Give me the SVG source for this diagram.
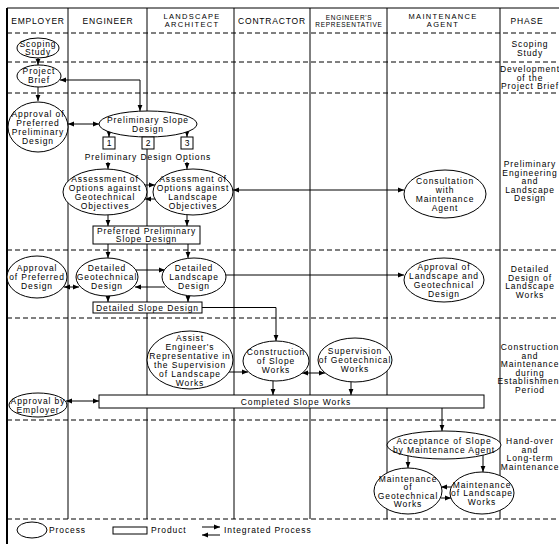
<svg xmlns="http://www.w3.org/2000/svg" width="559" height="544" viewBox="0 0 559 544">
<style>
.g{stroke:#000;stroke-width:1;fill:none}
.d{stroke:#000;stroke-width:1;fill:none;stroke-dasharray:5 3}
.n{stroke:#000;stroke-width:1;fill:#fff}
.c{stroke:#000;stroke-width:1;fill:none;marker-end:url(#ah)}
.b{stroke:#000;stroke-width:1;fill:none;marker-end:url(#ah);marker-start:url(#ah)}
text{font-family:"Liberation Sans",Arial,sans-serif;font-size:8.5px;letter-spacing:0.9px;fill:#000}
.t{text-anchor:middle}
.h{text-anchor:middle;font-size:8.5px;letter-spacing:0.8px}
.h2{text-anchor:middle;font-size:7.5px;letter-spacing:1.3px}
.hs{text-anchor:middle;font-size:6.5px;letter-spacing:0.7px}
</style>
<defs>
<marker id="ah" viewBox="0 0 6 6" refX="6" refY="3" markerWidth="6" markerHeight="6" markerUnits="userSpaceOnUse" orient="auto-start-reverse"><path d="M0,0.6 L6,3 L0,5.4z" fill="#000"/></marker>
</defs>
<rect x="0" y="0" width="559" height="544" fill="#fff"/>
<g id="grid">
<line class="g" x1="7" y1="8" x2="559" y2="8"/>
<line class="g" x1="7" y1="8" x2="7" y2="544" style="stroke-width:2"/>
<line class="g" x1="68" y1="8" x2="68" y2="519"/>
<line class="g" x1="147" y1="8" x2="147" y2="519"/>
<line class="g" x1="234" y1="8" x2="234" y2="519"/>
<line class="g" x1="310" y1="8" x2="310" y2="519"/>
<line class="g" x1="387" y1="8" x2="387" y2="519"/>
<line class="g" x1="500" y1="8" x2="500" y2="519"/>
<line class="d" x1="7" y1="33" x2="559" y2="33"/>
<line class="d" x1="7" y1="62" x2="559" y2="62"/>
<line class="d" x1="7" y1="93" x2="559" y2="93"/>
<line class="d" x1="7" y1="250" x2="559" y2="250"/>
<line class="d" x1="7" y1="318" x2="559" y2="318"/>
<line class="d" x1="7" y1="420" x2="559" y2="420"/>
<line class="d" x1="7" y1="519" x2="559" y2="519"/>
</g>
<g id="header">
<text class="h" x="38" y="24">EMPLOYER</text>
<text class="h" x="108" y="24">ENGINEER</text>
<text class="h2" x="192" y="18.5">LANDSCAPE</text>
<text class="h2" x="192" y="27">ARCHITECT</text>
<text class="h" x="272" y="24">CONTRACTOR</text>
<text class="hs" x="349" y="19.5">ENGINEER'S</text>
<text class="hs" x="349" y="27">REPRESENTATIVE</text>
<text class="h2" x="443" y="19">MAINTENANCE</text>
<text class="h2" x="443" y="27">AGENT</text>
<text class="h" x="527" y="24">PHASE</text>
</g>
<g id="phases">
<text class="t" x="530" y="47">Scoping</text>
<text class="t" x="530" y="55.5">Study</text>
<text class="t" x="530" y="72">Development</text>
<text class="t" x="530" y="80.5">of the</text>
<text class="t" x="530" y="89">Project Brief</text>
<text class="t" x="530" y="167">Preliminary</text>
<text class="t" x="530" y="175.5">Engineering</text>
<text class="t" x="530" y="184">and</text>
<text class="t" x="530" y="192.5">Landscape</text>
<text class="t" x="530" y="201">Design</text>
<text class="t" x="530" y="272">Detailed</text>
<text class="t" x="530" y="280.5">Design of</text>
<text class="t" x="530" y="289">Landscape</text>
<text class="t" x="530" y="297.5">Works</text>
<text class="t" x="530" y="350">Construction</text>
<text class="t" x="530" y="358.5">and</text>
<text class="t" x="530" y="367">Maintenance</text>
<text class="t" x="530" y="375.5">during</text>
<text class="t" x="530" y="384">Establishment</text>
<text class="t" x="530" y="392.5">Period</text>
<text class="t" x="530" y="444">Hand-over</text>
<text class="t" x="530" y="452.5">and</text>
<text class="t" x="530" y="461">Long-term</text>
<text class="t" x="530" y="469.5">Maintenance</text>
</g>
<g id="connectors">
<path class="c" d="M38,58 V65"/>
<path class="c" d="M38,87 V101"/>
<path class="b" d="M60,80 H140 V111"/>
<path class="b" d="M68,124 H99"/>
<path class="c" d="M109,132 V137"/>
<path class="c" d="M187,132 V137"/>
<path class="c" d="M108,162 V169"/>
<path class="c" d="M187,162 V169"/>
<path class="c" d="M145,185 H155"/>
<path class="c" d="M155,199 H145"/>
<path class="b" d="M233,190 H404"/>
<path class="c" d="M108,215 V226"/>
<path class="c" d="M187,215 V226"/>
<path class="c" d="M108,244 V258"/>
<path class="c" d="M188,244 V258"/>
<path class="b" d="M64,287 H79"/>
<path class="c" d="M135,270 H165"/>
<path class="c" d="M165,287 H135"/>
<path class="c" d="M226,275 H404"/>
<path class="c" d="M108,296 V302"/>
<path class="c" d="M188,296 V302"/>
<path class="c" d="M202,307.5 H276 V341"/>
<path class="c" d="M229,372 H248"/>
<path class="b" d="M302,373 H325"/>
<path class="c" d="M273,381 V395"/>
<path class="c" d="M351,382 V395"/>
<path class="b" d="M66,401 H99"/>
<path class="c" d="M442,408 V431"/>
<path class="c" d="M408,456 V468"/>
<path class="c" d="M483,455 V472"/>
<path class="c" d="M451,487 H441"/>
<path class="c" d="M441,498 H451"/>
</g>
<g id="scoping-study"><ellipse class="n" cx="38" cy="48" rx="21" ry="10"/><text class="t" x="38" y="46.5">Scoping</text><text class="t" x="38" y="55">Study</text></g>
<g id="project-brief"><ellipse class="n" cx="39" cy="76" rx="22" ry="11"/><text class="t" x="39" y="74">Project</text><text class="t" x="39" y="83">Brief</text></g>
<g id="approval-preliminary"><ellipse class="n" cx="38" cy="127" rx="30" ry="25"/><text class="t" x="38" y="117">Approval of</text><text class="t" x="38" y="126">Preferred</text><text class="t" x="38" y="135">Preliminary</text><text class="t" x="38" y="144">Design</text></g>
<g id="preliminary-slope-design"><ellipse class="n" cx="148" cy="124" rx="49" ry="13"/><text class="t" x="148" y="123">Preliminary Slope</text><text class="t" x="148" y="131.5">Design</text></g>
<g id="option-1"><rect class="n" x="103" y="137" width="12" height="12"/><text class="t" x="109.5" y="146">1</text></g>
<g id="option-2"><rect class="n" x="142" y="137" width="12" height="12"/><text class="t" x="148.5" y="146">2</text></g>
<g id="option-3"><rect class="n" x="181" y="137" width="12" height="12"/><text class="t" x="187.5" y="146">3</text></g>
<g id="options-label"><text class="t" x="148" y="160">Preliminary Design Options</text></g>
<g id="assessment-geotechnical"><ellipse class="n" cx="105" cy="192" rx="42" ry="23"/><text class="t" x="105" y="181.5">Assessment of</text><text class="t" x="105" y="190.5">Options against</text><text class="t" x="105" y="199.5">Geotechnical</text><text class="t" x="105" y="208.5">Objectives</text></g>
<g id="assessment-landscape"><ellipse class="n" cx="193" cy="192" rx="40" ry="23"/><text class="t" x="193" y="181.5">Assessment of</text><text class="t" x="193" y="190.5">Options against</text><text class="t" x="193" y="199.5">Landscape</text><text class="t" x="193" y="208.5">Objectives</text></g>
<g id="consultation"><ellipse class="n" cx="445" cy="194" rx="41" ry="24"/><text class="t" x="445" y="183.5">Consultation</text><text class="t" x="445" y="192.5">with</text><text class="t" x="445" y="201.5">Maintenance</text><text class="t" x="445" y="210.5">Agent</text></g>
<g id="preferred-preliminary-slope-design"><rect class="n" x="93" y="226" width="107" height="18"/><text class="t" x="146.5" y="233.5">Preferred Preliminary</text><text class="t" x="146.5" y="242">Slope Design</text></g>
<g id="approval-preferred-design"><ellipse class="n" cx="37" cy="277" rx="30" ry="21"/><text class="t" x="37" y="271">Approval</text><text class="t" x="37" y="280">of Preferred</text><text class="t" x="37" y="289">Design</text></g>
<g id="detailed-geotechnical"><ellipse class="n" cx="107" cy="277" rx="31" ry="19"/><text class="t" x="107" y="271">Detailed</text><text class="t" x="107" y="280">Geotechnical</text><text class="t" x="107" y="289">Design</text></g>
<g id="detailed-landscape"><ellipse class="n" cx="194" cy="277" rx="32" ry="19"/><text class="t" x="194" y="271">Detailed</text><text class="t" x="194" y="280">Landscape</text><text class="t" x="194" y="289">Design</text></g>
<g id="approval-landscape-geotechnical"><ellipse class="n" cx="444" cy="280" rx="40" ry="22"/><text class="t" x="444" y="269.5">Approval of</text><text class="t" x="444" y="278.5">Landscape and</text><text class="t" x="444" y="287.5">Geotechnical</text><text class="t" x="444" y="296.5">Design</text></g>
<g id="detailed-slope-design"><rect class="n" x="93" y="302" width="109" height="11"/><text class="t" x="147.5" y="310.5">Detailed Slope Design</text></g>
<g id="assist"><ellipse class="n" cx="190" cy="360" rx="43" ry="29"/><text class="t" x="190" y="340.5">Assist</text><text class="t" x="190" y="349.5">Engineer's</text><text class="t" x="190" y="358.5">Representative in</text><text class="t" x="190" y="367.5">the Supervision</text><text class="t" x="190" y="376.5">of Landscape</text><text class="t" x="190" y="385.5">Works</text></g>
<g id="construction"><ellipse class="n" cx="276" cy="361" rx="33" ry="20"/><text class="t" x="276" y="355">Construction</text><text class="t" x="276" y="364">of Slope</text><text class="t" x="276" y="373">Works</text></g>
<g id="supervision"><ellipse class="n" cx="355" cy="360" rx="37" ry="22"/><text class="t" x="355" y="354">Supervision</text><text class="t" x="355" y="363">of Geotechnical</text><text class="t" x="355" y="372">Works</text></g>
<g id="completed-slope-works"><rect class="n" x="99" y="395" width="385" height="13"/><text class="t" x="296" y="404.5">Completed Slope Works</text></g>
<g id="approval-employer"><ellipse class="n" cx="38" cy="405" rx="29" ry="12"/><text class="t" x="38" y="403.5">Approval by</text><text class="t" x="38" y="412.5">Employer</text></g>
<g id="acceptance"><ellipse class="n" cx="444" cy="445" rx="57" ry="14"/><text class="t" x="444" y="443.5">Acceptance of Slope</text><text class="t" x="444" y="452.5">by Maintenance Agent</text></g>
<g id="maintenance-geotechnical"><ellipse class="n" cx="408" cy="491" rx="34" ry="23"/><text class="t" x="408" y="481.5">Maintenance</text><text class="t" x="408" y="490">of</text><text class="t" x="408" y="498.5">Geotechnical</text><text class="t" x="408" y="507">Works</text></g>
<g id="maintenance-landscape"><ellipse class="n" cx="482" cy="493" rx="32" ry="21"/><text class="t" x="482" y="487.5">Maintenance</text><text class="t" x="482" y="496">of Landscape</text><text class="t" x="482" y="504.5">Works</text></g>
<g id="legend">
<ellipse class="n" cx="32" cy="530" rx="15" ry="8"/><text x="49" y="533">Process</text>
<rect class="n" x="113" y="527" width="34" height="7"/><text x="151" y="533">Product</text>
<path class="c" d="M202,527 H220"/><path class="c" d="M220,535 H202"/>
<text x="224" y="533">Integrated Process</text>
</g>
</svg>
